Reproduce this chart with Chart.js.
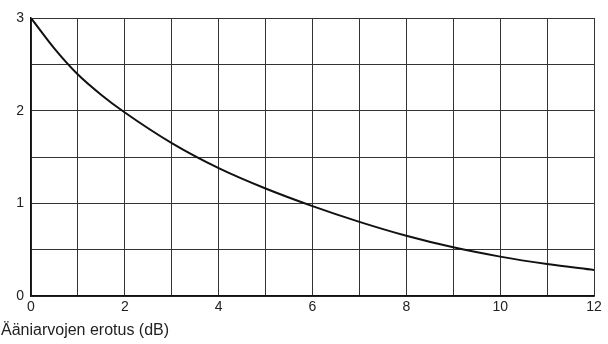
<!DOCTYPE html>
<html>
<head>
<meta charset="utf-8">
<script src="https://cdn.jsdelivr.net/npm/chart.js@4/dist/chart.umd.min.js"></script>
<style>
html,body{margin:0;padding:0;background:#fff;}
#wrap{position:relative;width:608px;height:344px;}
</style>
</head>
<body>
<div id="wrap"><canvas id="c" width="608" height="344"></canvas></div>
<script>
const xValues = [0, 0.5, 1, 1.5, 2, 3, 4, 5, 6, 7, 8, 9, 10, 11, 12];
const yValues = [3.0, 2.67, 2.39, 2.17, 1.98, 1.65, 1.38, 1.16, 0.97, 0.80, 0.65, 0.525, 0.425, 0.345, 0.28];
const xTickLabels = ['0', '2', '4', '6', '8', '10', '12'];
const yTickLabels = ['0', '1', '2', '3'];
const xTitle = 'Ääniarvojen erotus (dB)';

const points = xValues.map((x, i) => ({x: x, y: yValues[i]}));
const FONT = {family: '"Liberation Sans", Arial, sans-serif', size: 14};

const titlePlugin = {
  id: 'xtitle',
  afterDraw(chart) {
    const ctx = chart.ctx;
    ctx.save();
    ctx.font = '16px "Liberation Sans", Arial, sans-serif';
    ctx.fillStyle = '#222';
    ctx.textBaseline = 'middle';
    ctx.textAlign = 'left';
    ctx.fillText(xTitle, 1, 331);
    ctx.restore();
  }
};

new Chart(document.getElementById('c'), {
  type: 'scatter',
  data: {
    datasets: [{
      data: points,
      showLine: true,
      borderColor: '#111',
      borderWidth: 2,
      pointRadius: 0,
      cubicInterpolationMode: 'monotone',
      fill: false
    }]
  },
  options: {
    responsive: false,
    animation: false,
    layout: {padding: {top: 18, right: 14, left: 0, bottom: 0}},
    plugins: {legend: {display: false}, tooltip: {enabled: false}},
    scales: {
      x: {
        type: 'linear',
        min: 0, max: 12,
        afterFit(s) { s.height = 48; },
        border: {color: '#111', width: 1.5},
        grid: {color: '#333', lineWidth: 1, tickLength: 0},
        ticks: {
          stepSize: 1,
          padding: 3,
          color: '#222',
          font: FONT,
          maxRotation: 0,
          autoSkip: false,
          callback: (v) => {
            const s = String(v);
            return xTickLabels.includes(s) ? s : '';
          }
        }
      },
      y: {
        type: 'linear',
        min: 0, max: 3,
        afterFit(s) { s.width = 31; },
        border: {color: '#111', width: 1.5},
        grid: {color: '#333', lineWidth: 1, tickLength: 0},
        ticks: {
          stepSize: 0.5,
          padding: 7,
          color: '#222',
          font: FONT,
          autoSkip: false,
          callback: (v) => {
            const s = String(v);
            return yTickLabels.includes(s) ? s : '';
          }
        }
      }
    }
  },
  plugins: [titlePlugin]
});
</script>
</body>
</html>
